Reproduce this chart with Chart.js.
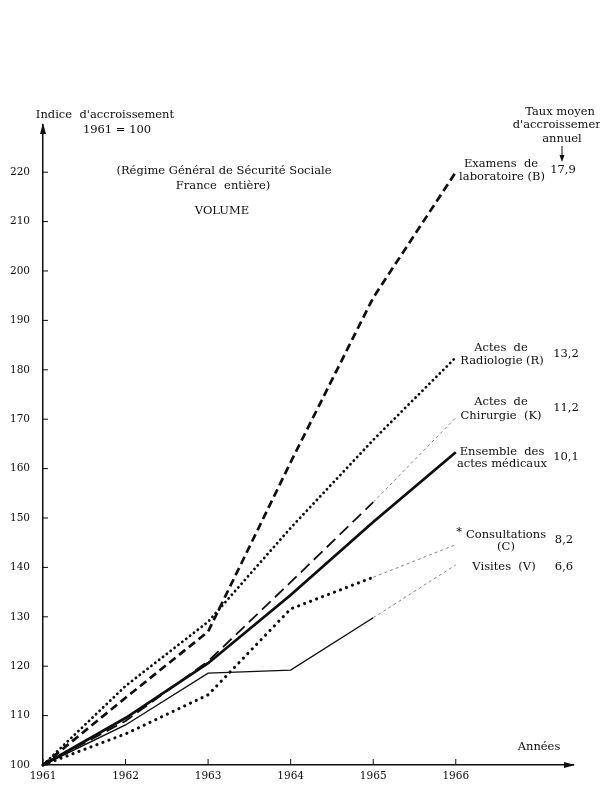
<!DOCTYPE html>
<html lang="fr">
<head>
<meta charset="utf-8">
<title>Indice d'accroissement - volume</title>
<script src="https://cdn.jsdelivr.net/npm/chart.js@4.4.0/dist/chart.umd.min.js"></script>
<style>
  html, body { margin: 0; padding: 0; background: #fff; }
  #wrap { width: 600px; height: 788px; position: relative; }
</style>
</head>
<body>
<div id="wrap"><canvas id="chart"></canvas></div>
<script>
// Données (indice 1961 = 100)
const annees = [1961, 1962, 1963, 1964, 1965, 1966];
const yTicks = [100, 110, 120, 130, 140, 150, 160, 170, 180, 190, 200, 210, 220];

const laboratoire = [100, 113.6, 127.0, 161.3, 194.6, 220.0];
const radiologie  = [100, 116.0, 129.0, 148.0, 165.8, 182.5];
const chirurgie   = [100, 108.9, 121.0, 137.0, 153.2, 170.3];
const ensemble    = [100, 109.5, 120.6, 134.4, 149.2, 163.3];
const consultations = [100, 106.3, 114.2, 131.6, 138.0, 144.6];
const visites     = [100, 108.1, 118.6, 119.2, 129.8, 140.5];

const serif = '"DejaVu Serif", "Liberation Serif", serif';
const ink = '#0e0e0e';

function pts(values) {
    return values.map((v, i) => ({ x: annees[i], y: v }));
}

// dernier segment (1965-1966) en tireté fin
const lastSeg = ctx => ctx.p0DataIndex === 4;

function serie(label, values, style) {
    return Object.assign({
        label: label,
        data: pts(values),
        borderColor: ink,
        pointRadius: 0,
        tension: 0,
        clip: false,
        fill: false
    }, style);
}

const finTirete = {
    borderDash: ctx => lastSeg(ctx) ? [3, 3] : undefined,
    borderWidth: ctx => lastSeg(ctx) ? 0.8 : undefined,
    borderColor: ctx => lastSeg(ctx) ? '#666' : undefined,
    borderCapStyle: ctx => lastSeg(ctx) ? 'butt' : undefined
};

const datasets = [
    serie('Examens de laboratoire (B)', laboratoire, { borderWidth: 2.7, borderDash: [8, 4.5] }),
    serie('Actes de Radiologie (R)', radiologie, { borderWidth: 2.8, borderDash: [0.1, 4.8], borderCapStyle: 'round' }),
    serie('Actes de Chirurgie (K)', chirurgie, { borderWidth: 1.8, borderDash: [12, 6], segment: finTirete }),
    serie('Ensemble des actes médicaux', ensemble, { borderWidth: 2.8 }),
    serie('Consultations (C)', consultations, {
        borderWidth: 3.1, borderDash: [0.1, 6.3], borderCapStyle: 'round', segment: finTirete
    }),
    serie('Visites (V)', visites, { borderWidth: 1.4, segment: finTirete })
];

// Textes du graphique (centrés)
const textes = [
    ["Indice  d'accroissement", 105, 115],
    ['1961 = 100', 117, 130],
    ['(Régime Général de Sécurité Sociale', 224, 171],
    ['France  entière)', 223, 186],
    ['VOLUME', 222, 211],
    ['Taux moyen', 560, 112],
    ["d'accroissement", 560, 125],
    ['annuel', 562, 139],
    ['17,9', 563, 170],
    ['Examens  de', 501, 164],
    ['laboratoire (B)', 502, 177],
    ['Actes  de', 501, 348],
    ['Radiologie (R)', 502, 361],
    ['13,2', 566, 354],
    ['Actes  de', 501, 402],
    ['Chirurgie  (K)', 501, 416],
    ['11,2', 566, 408],
    ['Ensemble  des', 502, 452],
    ['actes médicaux', 502, 464],
    ['10,1', 566, 457],
    ['*', 459, 532],
    ['Consultations', 506, 535],
    ['(C)', 506, 547],
    ['8,2', 564, 540],
    ['Visites  (V)', 504, 567],
    ['6,6', 564, 567],
    ['Années', 539, 747]
];

// Plugin : fond blanc, petits traits de graduation, flèches et textes
const decor = {
    id: 'decor',
    beforeDraw(chart) {
        const c = chart.ctx;
        c.save();
        c.fillStyle = '#fff';
        c.fillRect(0, 0, chart.width, chart.height);
        c.restore();
    },
    afterDraw(chart) {
        const c = chart.ctx;
        const area = chart.chartArea;
        const xs = chart.scales.x, ys = chart.scales.y;
        c.save();
        c.strokeStyle = ink;
        c.fillStyle = ink;
        c.lineWidth = 1;

        // graduations vers l'intérieur
        yTicks.forEach(v => {
            const y = ys.getPixelForValue(v);
            c.beginPath(); c.moveTo(area.left, y); c.lineTo(area.left + 5, y); c.stroke();
        });
        annees.forEach(a => {
            const x = xs.getPixelForValue(a);
            c.beginPath(); c.moveTo(x, area.bottom); c.lineTo(x, area.bottom - 6); c.stroke();
        });

        // flèches des axes
        c.beginPath();
        c.moveTo(area.left, area.top - 2);
        c.lineTo(area.left - 3, area.top + 9);
        c.lineTo(area.left + 3, area.top + 9);
        c.closePath(); c.fill();
        c.beginPath();
        c.moveTo(area.right + 2, area.bottom);
        c.lineTo(area.right - 9, area.bottom - 3);
        c.lineTo(area.right - 9, area.bottom + 3);
        c.closePath(); c.fill();

        // petite flèche sous "annuel"
        c.beginPath(); c.moveTo(562, 146); c.lineTo(562, 158); c.stroke();
        c.beginPath();
        c.moveTo(562, 162); c.lineTo(559.5, 155); c.lineTo(564.5, 155);
        c.closePath(); c.fill();

        // textes
        c.font = '11.5px ' + serif;
        c.textAlign = 'center';
        c.textBaseline = 'middle';
        textes.forEach(t => c.fillText(t[0], t[1], t[2]));
        c.restore();
    }
};

new Chart(document.getElementById('chart'), {
    type: 'line',
    data: { datasets: datasets },
    options: {
        responsive: true,
        maintainAspectRatio: false,
        animation: false,
        events: [],
        layout: { padding: { top: 125, right: 27, left: 0, bottom: 0 } },
        plugins: {
            legend: { display: false },
            tooltip: { enabled: false }
        },
        scales: {
            x: {
                type: 'linear',
                min: 1961,
                max: 1967.42,
                afterBuildTicks: s => { s.ticks = annees.map(v => ({ value: v })); },
                afterFit: s => { s.height = 23; },
                grid: { display: false, drawTicks: false },
                border: { display: true, color: ink, width: 1.5 },
                ticks: {
                    padding: 5,
                    maxRotation: 0,
                    color: ink,
                    font: { family: serif, size: 10.5 },
                    callback: v => String(v)
                }
            },
            y: {
                type: 'linear',
                min: 100,
                max: 229.55,
                afterBuildTicks: s => { s.ticks = yTicks.map(v => ({ value: v })); },
                afterFit: s => { s.width = 43; },
                grid: { display: false, drawTicks: false },
                border: { display: true, color: ink, width: 1.5 },
                ticks: {
                    padding: 13,
                    color: ink,
                    font: { family: serif, size: 10.5 }
                }
            }
        }
    },
    plugins: [decor]
});
</script>
</body>
</html>
